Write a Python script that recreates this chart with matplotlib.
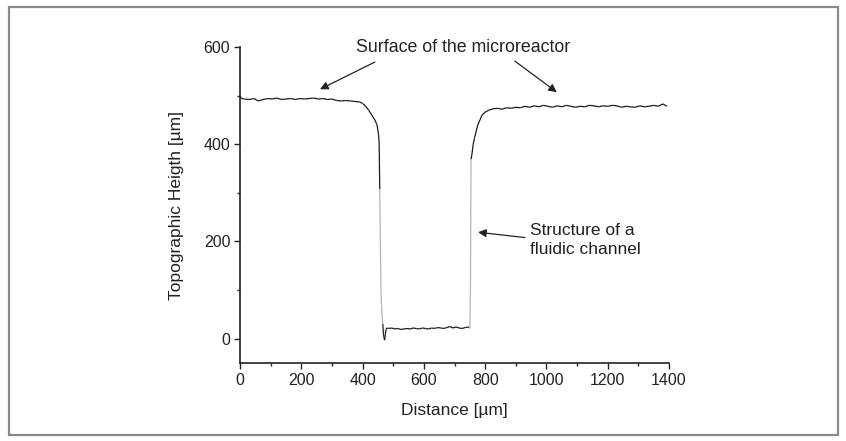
import numpy as np
import matplotlib
matplotlib.use("Agg")
import matplotlib.pyplot as plt
from matplotlib.collections import LineCollection
from matplotlib.patches import Rectangle

plt.rcParams['font.family'] = ['Liberation Sans', 'DejaVu Sans']

# Profile data (distance in um, height in um)
dist = [0, 5, 15, 30, 45, 60, 75, 90, 105, 120, 135, 150, 165, 180, 195, 210, 225, 240,
        255, 270, 285, 300, 315, 330, 345, 360, 375, 390,
        400, 410, 420, 430, 440, 447, 452, 454, 455, 456, 458, 460, 462, 464, 466, 468,
        470, 472, 474, 477, 480,
        485, 495, 505, 515, 525, 535, 545, 555, 565, 575, 585, 595, 605, 615, 625, 635,
        645, 655, 665, 675, 685, 695, 705, 715, 725, 735, 745, 750,
        752, 754, 757, 761, 765, 770, 776, 783, 790, 800, 812, 826,
        840, 855, 870, 885, 900, 915, 930, 945, 960, 975, 990, 1005, 1020, 1035, 1050,
        1065, 1080, 1095, 1110, 1125, 1140, 1155, 1170, 1185, 1200, 1215, 1230, 1245,
        1260, 1275, 1290, 1305, 1320, 1335, 1350, 1365, 1380, 1393]
height = [500, 494, 493, 492, 494, 489, 492, 494, 493, 495, 492, 493, 494, 492, 494, 493, 494, 495,
          493, 494, 492, 493, 490, 489, 490, 489, 488, 487,
          484, 478, 470, 460, 450, 440, 420, 405, 360, 307, 200, 100, 66, 45, 30, 10,
          2, -3, 8, 20, 22,
          21, 22, 20, 21, 19, 20, 21, 20, 22, 21, 20, 22, 21, 20, 22, 21,
          23, 22, 21, 23, 25, 22, 24, 22, 21, 23, 24, 22,
          100, 369, 380, 400, 412, 425, 440, 450, 460, 466, 470, 473,
          474, 472, 475, 474, 476, 475, 478, 476, 479, 477, 480, 478, 476, 479, 477,
          480, 478, 476, 478, 477, 480, 479, 477, 479, 478, 480, 479, 476,
          478, 477, 476, 479, 477, 478, 480, 478, 483, 478]

x_ticks = [0, 200, 400, 600, 800, 1000, 1200, 1400]
y_ticks = [0, 200, 400, 600]

W, H = 846, 441
fig = plt.figure(figsize=(W / 100, H / 100), dpi=100)
ax = fig.add_axes([240 / W, 1 - 363 / H, (669 - 240) / W, (363 - 47) / H])

xd = np.array(dist, float)
yd = np.array(height, float)
pts = np.column_stack([xd, yd])
segs = np.stack([pts[:-1], pts[1:]], axis=1)
mid = (yd[:-1] + yd[1:]) / 2
colors = ['#b5b5b5' if (30 < m < 300) else '#1a1a1a' for m in mid]
lc = LineCollection(segs, colors=colors, linewidths=0.9)
ax.add_collection(lc)

ax.set_xlim(0, 1400)
ax.set_ylim(-50, 600)
ax.set_xticks(x_ticks)
ax.set_yticks(y_ticks)
ax.set_xticks(np.arange(100, 1400, 200), minor=True)
ax.set_yticks([100, 300, 500], minor=True)
ax.tick_params(which='major', direction='out', length=4, width=1, labelsize=11.5, colors='#222222', pad=3)
ax.tick_params(which='minor', direction='out', length=2, width=1, colors='#222222')
for s in ['top', 'right']:
    ax.spines[s].set_visible(False)
for s in ['left', 'bottom']:
    ax.spines[s].set_linewidth(1.2)
    ax.spines[s].set_color('#222222')

ax.set_xlabel('Distance [µm]', fontsize=12.5, color='#222222', labelpad=11)
ax.set_ylabel('Topographic Heigth [µm]', fontsize=12.5, color='#222222', labelpad=14)

ax.text(728, 600, 'Surface of the microreactor', ha='center', va='center', fontsize=12.8,
        color='#222222', clip_on=False)
arrow = dict(arrowstyle='-|>', color='#222222', lw=0.9, mutation_scale=12, shrinkA=0, shrinkB=0)
ax.annotate('', xy=(261, 513), xytext=(440, 569), arrowprops=arrow)
ax.annotate('', xy=(1034, 507), xytext=(897, 571), arrowprops=arrow)
ax.annotate('', xy=(777, 219), xytext=(930, 208), arrowprops=arrow)
ax.text(946, 203, 'Structure of a\nfluidic channel', ha='left', va='center', fontsize=12.5,
        color='#222222', linespacing=1.3)

fig.patches.append(Rectangle((9 / W, 1 - 435 / H), (838 - 9) / W, (435 - 7) / H,
                             transform=fig.transFigure, fill=False, edgecolor='#8a8a8a', lw=1.6))

fig.savefig('out.png', dpi=100)
